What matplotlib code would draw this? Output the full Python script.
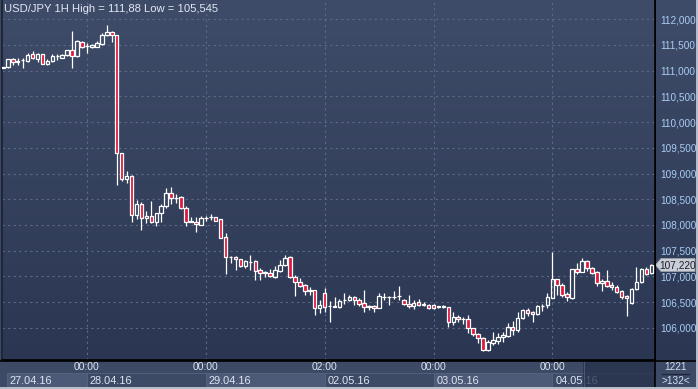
import numpy as np
import matplotlib
matplotlib.use("Agg")
import matplotlib.pyplot as plt
from matplotlib.colors import LinearSegmentedColormap
from matplotlib.patches import Rectangle, Polygon
from matplotlib.transforms import blended_transform_factory
from matplotlib.ticker import FuncFormatter

# ---------------- data ----------------
title = "USD/JPY 1H High = 111,88 Low = 105,545"
opens = [111.06, 111.07, 111.22, 111.17, 111.20, 111.19, 111.32, 111.22, 111.32, 111.14,
         111.19, 111.28, 111.25, 111.30, 111.40, 111.29, 111.56, 111.48, 111.46, 111.47,
         111.52, 111.69, 111.76, 111.69, 109.39, 108.89, 108.96, 108.19, 108.41, 108.13,
         108.17, 108.06, 108.23, 108.36, 108.63, 108.53, 108.55, 108.32, 108.07, 108.06,
         108.00, 108.13, 108.15, 108.15, 108.11, 107.76, 107.37, 107.38, 107.33, 107.21,
         107.28, 107.30, 107.12, 107.07, 107.07, 106.99, 107.11, 107.22, 107.37, 106.99,
         106.88, 106.83, 106.72, 106.73, 106.38, 106.67, 106.42, 106.41, 106.41, 106.53,
         106.53, 106.59, 106.54, 106.49, 106.42, 106.42, 106.38, 106.60, 106.60, 106.60,
         106.61, 106.54, 106.47, 106.43, 106.50, 106.45, 106.45, 106.45, 106.41, 106.41,
         106.40, 106.12, 106.20, 106.16, 106.16, 105.99, 105.87, 105.79, 105.57, 105.70,
         105.75, 105.81, 105.84, 106.01, 105.96, 106.18, 106.34, 106.30, 106.26, 106.42,
         106.44, 106.58, 106.94, 106.84, 106.66, 106.57, 107.14, 107.09, 107.30, 107.16,
         107.09, 106.86, 106.91, 106.83, 106.80, 106.72, 106.61, 106.49, 106.75, 106.88,
         107.14, 107.07]
highs = [111.08, 111.23, 111.25, 111.24, 111.24, 111.35, 111.39, 111.35, 111.33, 111.22,
         111.32, 111.32, 111.32, 111.41, 111.77, 111.59, 111.57, 111.53, 111.52, 111.57,
         111.74, 111.88, 111.77, 111.70, 109.40, 109.05, 108.97, 108.48, 108.45, 108.27,
         108.47, 108.24, 108.41, 108.72, 108.74, 108.60, 108.56, 108.37, 108.15, 108.15,
         108.17, 108.17, 108.21, 108.16, 108.12, 107.84, 107.39, 107.40, 107.34, 107.32,
         107.41, 107.31, 107.16, 107.11, 107.14, 107.20, 107.32, 107.41, 107.39, 107.02,
         106.97, 106.85, 106.80, 106.73, 106.54, 106.77, 106.52, 106.60, 106.55, 106.67,
         106.64, 106.61, 106.57, 106.73, 106.44, 106.44, 106.68, 106.68, 106.62, 106.72,
         106.82, 106.56, 106.64, 106.54, 106.55, 106.50, 106.46, 106.46, 106.43, 106.45,
         106.41, 106.30, 106.25, 106.21, 106.25, 106.00, 105.90, 105.82, 105.76, 105.91,
         105.90, 105.92, 106.09, 106.13, 106.31, 106.36, 106.38, 106.33, 106.45, 106.47,
         106.68, 107.47, 106.95, 106.86, 106.70, 107.15, 107.26, 107.35, 107.32, 107.18,
         107.10, 106.95, 107.12, 106.88, 106.83, 106.73, 106.63, 106.77, 107.19, 107.16,
         107.19, 107.24]
lows = [111.05, 111.06, 111.12, 111.12, 111.05, 111.17, 111.22, 111.17, 111.13, 111.11,
        111.17, 111.21, 111.24, 111.29, 111.05, 111.27, 111.45, 111.35, 111.44, 111.46,
        111.50, 111.68, 111.56, 108.77, 108.86, 108.81, 108.05, 108.11, 107.91, 108.04,
        108.04, 107.97, 108.06, 108.33, 108.41, 108.43, 108.31, 107.98, 108.05, 107.86,
        107.99, 108.08, 108.10, 108.07, 107.74, 107.04, 107.25, 107.12, 107.18, 107.16,
        107.12, 106.93, 106.93, 106.99, 106.99, 106.96, 107.09, 107.20, 106.97, 106.62,
        106.80, 106.63, 106.64, 106.25, 106.28, 106.31, 106.12, 106.40, 106.38, 106.47,
        106.51, 106.44, 106.42, 106.31, 106.34, 106.31, 106.38, 106.54, 106.45, 106.55,
        106.54, 106.45, 106.39, 106.36, 106.42, 106.43, 106.37, 106.37, 106.38, 106.38,
        106.02, 106.05, 106.12, 106.08, 105.89, 105.83, 105.70, 105.545, 105.55, 105.66,
        105.68, 105.73, 105.82, 105.86, 105.92, 106.17, 106.23, 106.12, 106.24, 106.33,
        106.39, 106.57, 106.64, 106.59, 106.51, 106.55, 107.04, 107.08, 107.11, 107.04,
        106.81, 106.71, 106.80, 106.73, 106.67, 106.55, 106.23, 106.47, 106.74, 106.86,
        107.03, 107.04]
closes = [111.07, 111.22, 111.16, 111.18, 111.21, 111.31, 111.24, 111.32, 111.14, 111.19,
          111.29, 111.29, 111.31, 111.40, 111.29, 111.58, 111.46, 111.48, 111.50, 111.53,
          111.69, 111.76, 111.69, 109.39, 108.89, 108.96, 108.19, 108.41, 108.13, 108.17,
          108.06, 108.23, 108.37, 108.63, 108.53, 108.52, 108.32, 108.06, 108.06, 108.02,
          108.13, 108.13, 108.15, 108.08, 107.75, 107.37, 107.37, 107.33, 107.21, 107.30,
          107.28, 107.11, 107.07, 107.07, 107.01, 107.12, 107.22, 107.35, 106.99, 106.88,
          106.82, 106.72, 106.72, 106.38, 106.45, 106.41, 106.43, 106.42, 106.52, 106.53,
          106.59, 106.53, 106.46, 106.40, 106.41, 106.38, 106.61, 106.60, 106.60, 106.60,
          106.61, 106.47, 106.43, 106.49, 106.44, 106.45, 106.39, 106.39, 106.41, 106.41,
          106.12, 106.20, 106.16, 106.16, 105.99, 105.87, 105.79, 105.57, 105.72, 105.76,
          105.81, 105.86, 106.01, 105.96, 106.18, 106.34, 106.29, 106.26, 106.42, 106.42,
          106.59, 106.94, 106.83, 106.64, 106.59, 107.14, 107.09, 107.30, 107.16, 107.07,
          106.86, 106.91, 106.82, 106.79, 106.70, 106.60, 106.57, 106.75, 106.88, 107.14,
          107.04, 107.22]
price_ticks = [106.0, 106.5, 107.0, 107.5, 108.0, 108.5, 109.0, 109.5, 110.0, 110.5, 111.0, 111.5, 112.0]
day_break_idx = [17, 41, 65, 87, 111]
time_labels = ["00:00", "00:00", "02:00", "00:00", "00:00"]
date_labels = ["27.04.16", "28.04.16", "29.04.16", "02.05.16", "03.05.16", "04.05.16"]
last_price = 107.220
corner_top = "1221"
corner_bottom = ">132<"

# ---------------- figure ----------------
W, H = 698, 389
fig = plt.figure(figsize=(W / 100, H / 100), dpi=100)
fig.patch.set_facecolor("#3d4a66")
FONT = "Liberation Sans"

# background axes in pixel coordinates
bg = fig.add_axes([0, 0, 1, 1], zorder=0)
bg.set_xlim(0, W)
bg.set_ylim(H, 0)
bg.axis("off")

grad = LinearSegmentedColormap.from_list("g", ["#3f4c69", "#2b3752"])
gimg = np.linspace(0, 1, 256).reshape(-1, 1)
# right price panel gradient
bg.imshow(gimg, cmap=grad, extent=[655, W, 360, 0], aspect="auto", zorder=1)
# bottom time panel
bg.add_patch(Rectangle((0, 360), 655, 29, facecolor="#3d4a66", edgecolor="none", zorder=1))
n = len(opens)

# main axes
L, R, T, B = 2, 655, 1, 360
ax = fig.add_axes([L / W, (H - B) / H, (R - L) / W, (B - T) / H], zorder=2)
ax.set_facecolor("none")
x0_idx = (L - 2.85) / 4.95
x1_idx = (R - 2.85) / 4.95
ax.set_xlim(x0_idx, x1_idx)
ylo = 112 - (B - 19.3) / 51.4
yhi = 112 + (19.3 - T) / 51.4
ax.set_ylim(ylo, yhi)
ax.imshow(gimg, cmap=grad, extent=[0, 1, 0, 1], transform=ax.transAxes,
          aspect="auto", zorder=0)

for s in ax.spines.values():
    s.set_visible(False)
ax.spines["right"].set_visible(True)
ax.spines["right"].set_color("#000000")
ax.spines["right"].set_linewidth(1.2)
ax.spines["bottom"].set_visible(True)
ax.spines["bottom"].set_color("#000000")
ax.spines["bottom"].set_linewidth(1.2)
ax.spines["left"].set_visible(True)
ax.spines["left"].set_color("#1e2638")
ax.spines["left"].set_linewidth(1.5)

# grid
grid_col = "#5b6a88"
for p in price_ticks:
    ax.axhline(p, color=grid_col, lw=0.8, ls=(0, (2, 3)), zorder=1)
for d in day_break_idx:
    ax.axvline(d, color=grid_col, lw=0.8, ls=(0, (2, 3)), zorder=1)

# y ticks on right
ax.yaxis.tick_right()
ax.set_yticks(price_ticks)
ax.yaxis.set_major_formatter(FuncFormatter(lambda v, p: f"{v:.3f}".replace(".", ",")))
ax.tick_params(axis="y", length=0, pad=3.5, labelsize=7.2, labelcolor="#a9cdf5")
for lab in ax.get_yticklabels():
    lab.set_fontfamily(FONT)
ax.set_xticks([])

# candles
red = "#e0163a"
bw = 0.72
for i in range(n):
    o, h, l, c = opens[i], highs[i], lows[i], closes[i]
    top = max(o, c)
    bot = min(o, c)
    ax.vlines(i, top, h, color="white", lw=0.9, zorder=3)
    ax.vlines(i, l, bot, color="white", lw=0.9, zorder=3)
    fc = red if c < o else "none"
    ax.add_patch(Rectangle((i - bw / 2, bot), bw, max(top - bot, 0.004),
                           facecolor=fc, edgecolor="white", lw=0.9, zorder=4))

# title
ax.text(2 / (R - L), 1 - 8 / (B - T), title, transform=ax.transAxes, fontsize=8.1,
        family=FONT, color="#e2e8f3", va="center", ha="left", zorder=6)

# price label on right
yl = 19.3 + (112 - last_price) * 51.4
bg.add_patch(Polygon([[655.5, yl], [661, yl - 6.5], [695, yl - 6.5], [695, yl + 6.5], [661, yl + 6.5]],
                     closed=True, facecolor="#c9cdd6", edgecolor="#9aa0aa", lw=0.6, zorder=5))
bg.text(678, yl + 0.5, f"{last_price:.3f}".replace(".", ","), fontsize=7.3, family=FONT,
        color="#1b1f2a", ha="center", va="center", zorder=6)

# bottom axis: time labels and date boxes
tr = blended_transform_factory(ax.transData, bg.transData)
for d, t in zip(day_break_idx, time_labels):
    bg.text(d, 367.5, t, transform=tr, fontsize=7.4, family=FONT, color="#dfe6f2",
            ha="center", va="center", zorder=6)

break_px = [2.85 + 4.95 * d for d in day_break_idx]
box_edges = [7] + break_px + [655]
for k, lab in enumerate(date_labels):
    xa, xb = box_edges[k], box_edges[k + 1]
    col = "#4c5a78" if k % 2 == 0 else "#3d4a66"
    bg.add_patch(Rectangle((xa, 373), xb - xa, 15, facecolor=col, edgecolor="#56647f",
                           lw=0.6, zorder=2))
    bg.text(xa + 3, 380.5, lab, fontsize=7.9, family=FONT, color="#dfe6f2",
            ha="left", va="center", zorder=6)

# dark overlay block at bottom right of time panel
bg.add_patch(Rectangle((583, 361), 72, 27, facecolor="#27314b", edgecolor="none",
                       alpha=0.78, zorder=7))
bg.plot([583.5, 583.5], [361, 388], color="#4a5672", lw=0.8, zorder=7)

# corner panel
bg.add_patch(Rectangle((655, 360), 43, 29, facecolor="#3d4a66", edgecolor="none", zorder=1))
bg.plot([655, 655], [0, 389], color="#000000", lw=1.2, zorder=8)
bg.plot([0, 698], [360.5, 360.5], color="#000000", lw=1.2, zorder=8)
bg.text(676, 367.5, corner_top, fontsize=7.2, family=FONT, color="#d4e0f2",
        ha="center", va="center", zorder=9)
bg.plot([662, 689], [374, 374], color="#1e2638", lw=0.9, zorder=9)
bg.text(676, 380.5, corner_bottom, fontsize=7.2, family=FONT, color="#d4e0f2",
        ha="center", va="center", zorder=9)

# outer frame
bg.plot([0, 698], [388.3, 388.3], color="#b9c1cf", lw=1.4, zorder=10)
bg.plot([697.3, 697.3], [0, 389], color="#b9c1cf", lw=1.4, zorder=10)

fig.savefig("out.png", dpi=100, facecolor=fig.get_facecolor())
